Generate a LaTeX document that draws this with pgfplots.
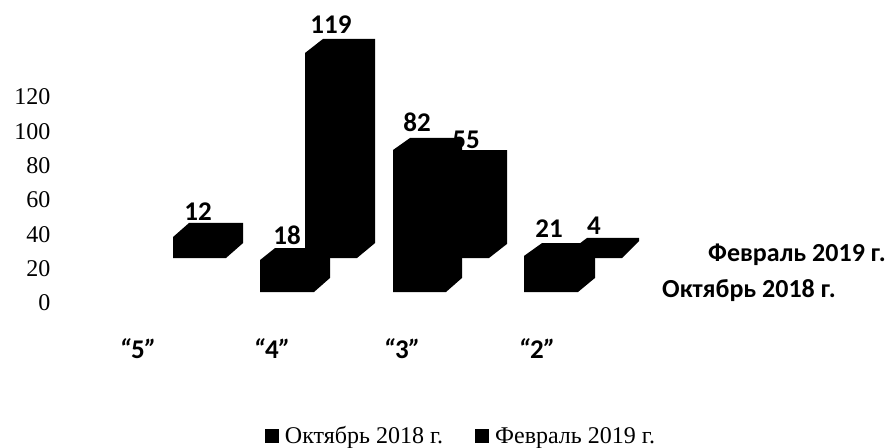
\documentclass[border=0pt]{standalone}
\usepackage{fontspec}
\setmainfont{Liberation Serif}
\newfontfamily\carl{Carlito}
\usepackage{pgfplots}
\pgfplotsset{compat=1.18}
\newcommand{\dl}[2]{\node[font=\carl\bfseries\fontsize{27}{27}\selectfont,inner sep=0pt] at (axis cs:#1) {#2};}
\newcommand{\qq}[1]{{\itshape “}#1{\itshape ”}}
\pgfplotsset{bar3d/.style={fill=black, draw=none, mark=none, forget plot}}
\begin{document}
\begin{tikzpicture}
\begin{axis}[
  scale only axis, width=890pt, height=447pt,
  xmin=0, xmax=890, ymin=-83.87, ymax=176.47,
  axis line style={draw=none}, tick style={draw=none},
  axis background/.style={fill=white},
  clip=false,
  ytick={0,20,40,60,80,100,120},
  /pgf/number format/assume math mode=true,
  yticklabel style={font=\fontsize{24}{24}\selectfont, xshift=54pt, anchor=east},
  xtick={138,272,402,537},
  xticklabels={\qq{5},\qq{4},\qq{3},\qq{2}},
  xticklabel style={font=\carl\bfseries\fontsize{27}{27}\selectfont, yshift=112pt},
  legend style={draw=none, fill=none, at={(axis cs:461,-77.5)}, anchor=center,
    legend columns=2, font=\fontsize{24}{24}\selectfont, inner sep=0pt,
    /tikz/every odd column/.append style={column sep=5pt},
    /tikz/every even column/.append style={column sep=30pt}},
]
\addlegendimage{only marks, mark=square*, mark size=6.5pt, black}
\addlegendentry{Октябрь 2018 г.}
\addlegendimage{only marks, mark=square*, mark size=6.5pt, black}
\addlegendentry{Февраль 2019 г.}
% Февраль 2019 (back row)
\addplot[bar3d] coordinates {(173,38.4)(189,46.6)(243,46.6)(243,34.9)(226,26.2)(173,26.2)} -- cycle;
\addplot[bar3d] coordinates {(305,145.6)(323,153.8)(375,153.8)(375,34.9)(357,26.2)(305,26.2)} -- cycle;
\addplot[bar3d] coordinates {(437,81.0)(455,89.1)(507,89.1)(507,34.4)(489,26.2)(437,26.2)} -- cycle;
\addplot[bar3d] coordinates {(570,30.3)(587,37.9)(639,37.9)(639,36.1)(622,26.2)(570,26.2)} -- cycle;
% Октябрь 2018 (front row)
\addplot[bar3d] coordinates {(260,25.0)(275,32.0)(330,32.0)(330,14.6)(314,6.4)(260,6.4)} -- cycle;
\addplot[bar3d] coordinates {(393,89.1)(410,96.1)(462,96.1)(462,14.6)(446,6.4)(393,6.4)} -- cycle;
\addplot[bar3d] coordinates {(524,27.4)(542,34.9)(595,34.9)(595,14.6)(578,6.4)(524,6.4)} -- cycle;
% value labels
\dl{198,53}{12}
\dl{287,39.5}{18}
\dl{331,162}{119}
\dl{417,105}{82}
\dl{466,95}{55}
\dl{549,43.5}{21}
\dl{594,45}{4}
\node[font=\carl\bfseries\fontsize{26}{26}\selectfont,anchor=east,inner sep=0pt] at (axis cs:886,28) {Февраль 2019 г.};
\node[font=\carl\bfseries\fontsize{26}{26}\selectfont,anchor=east,inner sep=0pt] at (axis cs:836,7) {Октябрь 2018 г.};
\end{axis}
\end{tikzpicture}
\end{document}
